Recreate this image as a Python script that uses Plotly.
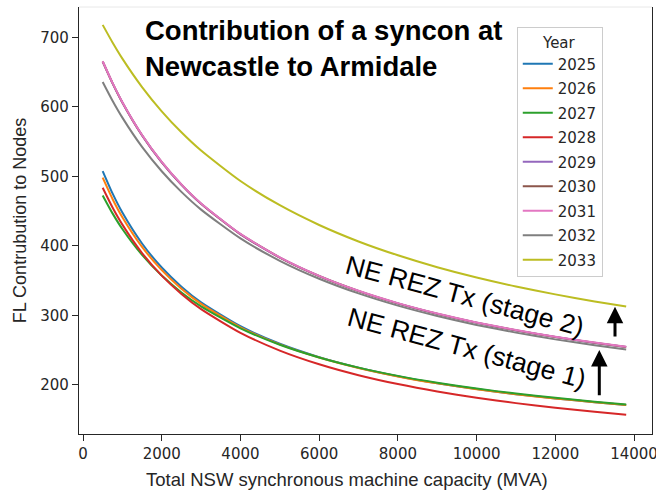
import plotly.graph_objects as go

# Total NSW synchronous machine capacity (MVA)
capacity = [500, 750, 1000, 1500, 2000, 2500, 3000, 4000, 5000, 6000,
            7000, 8000, 9000, 10000, 11000, 12000, 13000, 13800]

# Fault-level contribution to nodes, one list per year
fl_2025 = [507.7, 475.5, 448.0, 403.5, 368.9, 341.4, 318.9, 284.5, 259.3, 240.1,
           224.9, 212.6, 202.5, 194.1, 186.8, 180.6, 175.2, 171.3]
fl_2026 = [498.1, 467.5, 441.2, 398.5, 365.2, 338.5, 316.7, 283.0, 258.3, 239.4,
           224.4, 212.3, 202.3, 193.9, 186.7, 180.6, 175.2, 171.3]
fl_2027 = [472.6, 446.8, 424.3, 387.0, 357.3, 333.1, 313.0, 281.5, 257.9, 239.6,
           225.0, 213.1, 203.2, 194.8, 187.7, 181.5, 176.0, 172.1]
fl_2028 = [483.6, 455.2, 430.6, 389.7, 357.3, 331.0, 309.1, 275.0, 249.5, 229.8,
           214.1, 201.3, 190.6, 181.6, 173.9, 167.3, 161.5, 157.3]
fl_2029 = [665.0, 633.9, 606.2, 559.0, 520.3, 488.0, 460.6, 416.7, 383.1, 356.5,
           335.0, 317.2, 302.3, 289.5, 278.5, 268.9, 260.5, 254.5]
fl_2030 = [665.2, 634.1, 606.4, 559.2, 520.5, 488.2, 460.8, 416.9, 383.3, 356.7,
           335.2, 317.4, 302.5, 289.7, 278.7, 269.1, 260.7, 254.7]
fl_2031 = [665.6, 634.4, 606.7, 559.5, 520.8, 488.5, 461.1, 417.2, 383.6, 357.0,
           335.5, 317.7, 302.8, 290.0, 279.0, 269.4, 261.0, 255.0]
fl_2032 = [635.8, 608.8, 584.5, 542.4, 507.4, 477.7, 452.2, 410.8, 378.6, 352.8,
           331.7, 314.1, 299.2, 286.4, 275.3, 265.6, 257.1, 250.9]
fl_2033 = [717.9, 692.6, 669.4, 628.5, 593.6, 563.4, 537.1, 493.3, 458.5, 430.1,
           406.4, 386.5, 369.4, 354.6, 341.7, 330.3, 320.2, 312.9]

years = ["2025", "2026", "2027", "2028", "2029", "2030", "2031", "2032", "2033"]
series = [fl_2025, fl_2026, fl_2027, fl_2028, fl_2029, fl_2030, fl_2031, fl_2032, fl_2033]
colors = ["#1f77b4", "#ff7f0e", "#2ca02c", "#d62728", "#9467bd",
          "#8c564b", "#e377c2", "#7f7f7f", "#bcbd22"]

x_ticks = [0, 2000, 4000, 6000, 8000, 10000, 12000, 14000]
y_ticks = [200, 300, 400, 500, 600, 700]

# Arrow positions (x, tail y, head y) marking the step between stages
arrow_stage2 = (13516, 267.6, 312.6)
arrow_stage1 = (13117, 183.2, 250.3)

TICK_FONT = "DejaVu Sans"
TEXT_FONT = "Liberation Sans, Arial"
INK = "#262626"

fig = go.Figure()
for year, values, color in zip(years, series, colors):
    fig.add_trace(go.Scatter(
        x=capacity, y=values, name=year, mode="lines",
        line=dict(color=color, width=2, shape="spline", smoothing=0.6),
        legendgroup=year,
    ))

annotations = [
    dict(text="<b>Contribution of a syncon at<br>Newcastle to Armidale</b>",
         xref="paper", yref="paper", x=0.112, y=0.987,
         xanchor="left", yanchor="top", align="left", showarrow=False,
         font=dict(family=TEXT_FONT, size=27.5, color="black")),
    dict(text="NE REZ Tx (stage 2)", x=9700, y=327.3, xref="x", yref="y",
         textangle=15, showarrow=False, xanchor="center", yanchor="middle",
         font=dict(family=TEXT_FONT, size=26.5, color="black")),
    dict(text="NE REZ Tx (stage 1)", x=9740, y=252.5, xref="x", yref="y",
         textangle=15, showarrow=False, xanchor="center", yanchor="middle",
         font=dict(family=TEXT_FONT, size=26.5, color="black")),
    dict(text="Total NSW synchronous machine capacity (MVA)",
         xref="paper", yref="paper", x=0.4677, y=-0.1054,
         xanchor="center", yanchor="middle", showarrow=False,
         font=dict(family=TEXT_FONT, size=18.5, color=INK)),
]
for ax_x, tail, head in (arrow_stage2, arrow_stage1):
    annotations.append(dict(
        x=ax_x, y=head, ax=ax_x, ay=tail, xref="x", yref="y",
        axref="x", ayref="y", text="", showarrow=True,
        arrowhead=2, arrowsize=1.1, arrowwidth=3, arrowcolor="black",
    ))

fig.update_layout(
    width=656, height=491,
    margin=dict(l=79, r=4, t=7, b=57, autoexpand=False),
    plot_bgcolor="white", paper_bgcolor="white",
    showlegend=True,
    legend=dict(
        title=dict(text="Year", side="top center",
                   font=dict(family=TICK_FONT, size=15, color=INK)),
        font=dict(family=TICK_FONT, size=15, color=INK),
        x=0.764, y=0.953, xanchor="left", yanchor="top",
        bgcolor="rgba(255,255,255,0.8)", bordercolor="#cccccc", borderwidth=1,
        tracegroupgap=2,
    ),
    annotations=annotations,
    shapes=[dict(type="line", xref="paper", yref="paper", x0=0, x1=1, y0=1, y1=1,
                 line=dict(color="#e8e8e8", width=1))],
)

fig.update_xaxes(
    range=[-102, 14456], tickvals=x_ticks, ticktext=[str(v) for v in x_ticks],
    ticklabeloverflow="allow", automargin=False,
    showgrid=False, zeroline=False, showline=True, linecolor=INK, linewidth=1.2,
    ticks="outside", ticklen=6, tickcolor=INK, tickwidth=1.2,
    tickfont=dict(family=TICK_FONT, size=15, color=INK),
)
fig.update_yaxes(
    range=[129.5, 743.6], tickvals=y_ticks, ticktext=[str(v) for v in y_ticks],
    showgrid=False, zeroline=False, showline=True, mirror=True,
    linecolor=INK, linewidth=1.2,
    ticks="outside", ticklen=6, tickcolor=INK, tickwidth=1.2,
    tickfont=dict(family=TICK_FONT, size=15, color=INK),
    title=dict(text="FL Contrubution to Nodes", standoff=8,
               font=dict(family=TEXT_FONT, size=18, color=INK)),
)

fig.write_html("out.html")
